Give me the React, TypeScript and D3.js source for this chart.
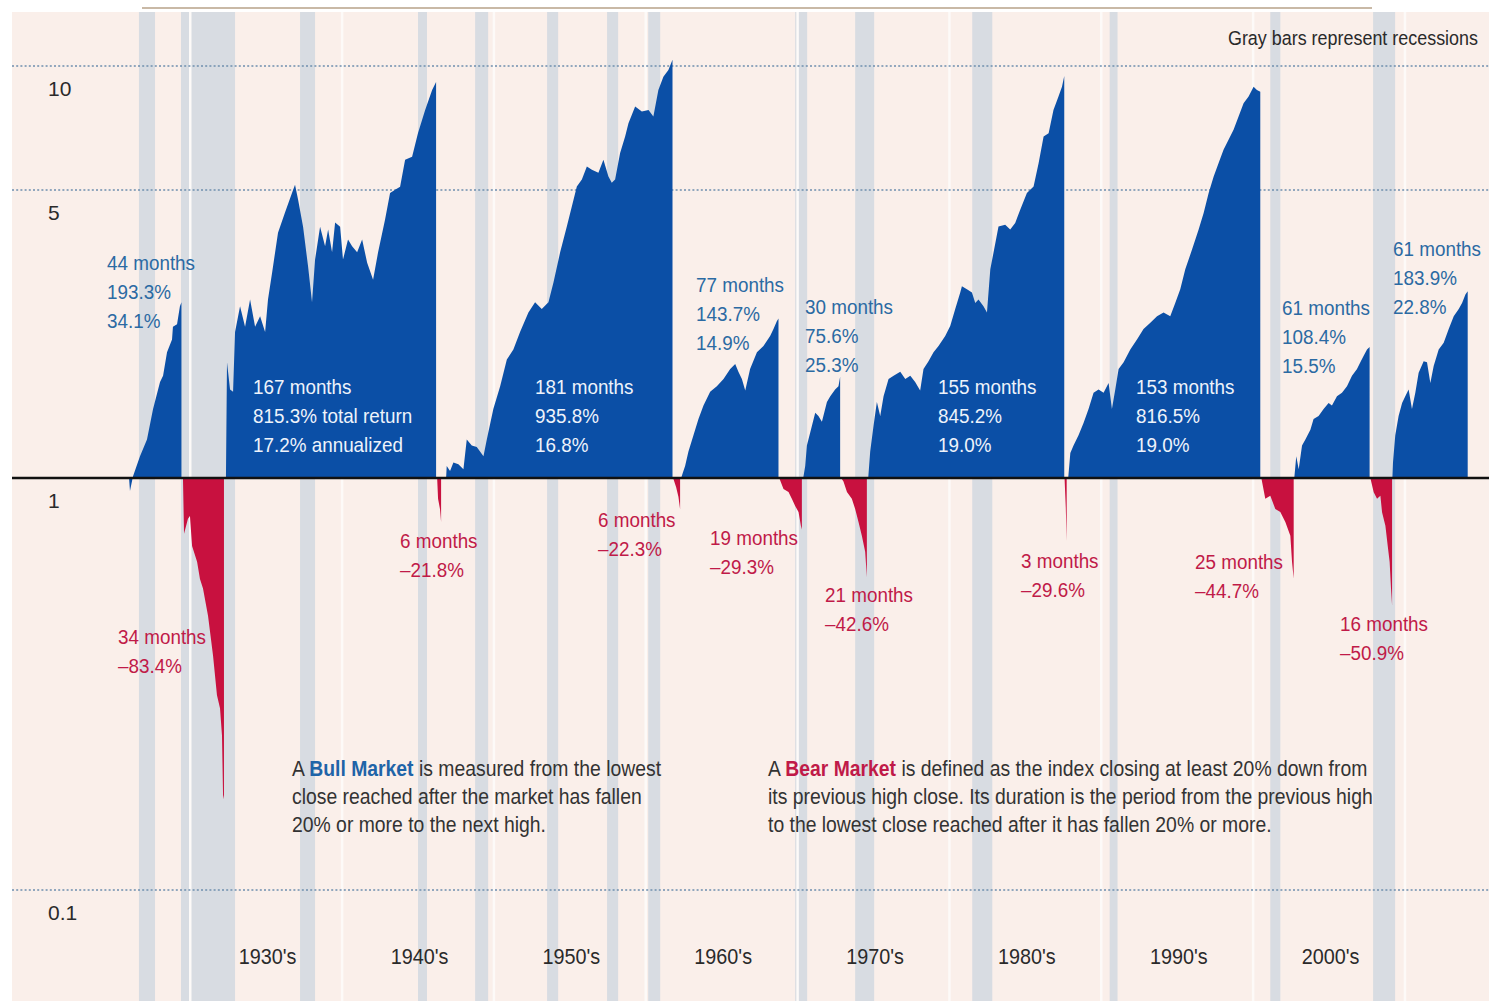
import * as d3 from 'd3';

// index value of each leg, rebased to 1 at its start: [year, multiple]
const BULL_1926: [number, number][] = [
  [1926.07, 1], [1926.13, 0.93], [1926.33, 1.01], [1926.79, 1.13], [1927.25, 1.24], [1927.65, 1.47],
  [1928.11, 1.71], [1928.31, 1.77], [1928.57, 2.02], [1928.9, 2.17], [1928.96, 2.33], [1929.23, 2.36],
  [1929.42, 2.61], [1929.52, 2.67],
];
const BEAR_1929: [number, number][] = [
  [1929.62, 1], [1929.69, 0.732], [1929.95, 0.796], [1930.08, 0.809], [1930.22, 0.684], [1930.55, 0.626],
  [1930.74, 0.569], [1930.94, 0.539], [1931.27, 0.463], [1931.6, 0.371], [1931.86, 0.297], [1932.06, 0.276],
  [1932.19, 0.237], [1932.26, 0.17], [1932.32, 0.166],
];
const BULL_1932: [number, number][] = [
  [1932.45, 1], [1932.52, 1.91], [1932.72, 1.64], [1932.92, 1.62], [1933.05, 2.26], [1933.38, 2.61],
  [1933.71, 2.33], [1934.04, 2.71], [1934.37, 2.33], [1934.7, 2.47], [1935.03, 2.26], [1935.22, 2.71],
  [1935.49, 3.15], [1935.88, 3.94], [1936.34, 4.41], [1936.8, 4.92], [1937.0, 5.15], [1937.2, 4.74],
  [1937.53, 4.07], [1937.86, 3.26], [1938.12, 2.67], [1938.32, 3.39], [1938.65, 4.07], [1938.98, 3.65],
  [1939.18, 4.01], [1939.44, 3.53], [1939.64, 4.17], [1939.97, 4.07], [1940.16, 3.39], [1940.49, 3.79],
  [1940.76, 3.65], [1941.09, 3.53], [1941.42, 3.79], [1941.75, 3.33], [1942.14, 3.03], [1942.47, 3.53],
  [1942.93, 4.24], [1943.26, 4.92], [1943.59, 5.01], [1943.92, 5.09], [1944.25, 5.92], [1944.71, 6.02],
  [1945.1, 6.88], [1945.57, 7.82], [1946.03, 8.74], [1946.29, 9.15],
];
const BEAR_1946: [number, number][] = [
  [1946.36, 1], [1946.42, 0.89], [1946.55, 0.84], [1946.62, 0.782],
];
const BULL_1946: [number, number][] = [
  [1946.95, 1], [1946.99, 1.07], [1947.21, 1.04], [1947.43, 1.09], [1947.76, 1.08], [1948.09, 1.05],
  [1948.31, 1.24], [1948.64, 1.2], [1948.97, 1.19], [1949.41, 1.13], [1949.63, 1.24], [1950.06, 1.47],
  [1950.51, 1.67], [1950.95, 1.94], [1951.38, 2.05], [1951.82, 2.26], [1952.37, 2.52], [1952.81, 2.67],
  [1953.25, 2.57], [1953.69, 2.67], [1954.02, 2.98], [1954.46, 3.53], [1954.9, 4.08], [1955.23, 4.56],
  [1955.56, 5.1], [1955.89, 5.3], [1956.22, 5.7], [1956.55, 5.6], [1956.98, 5.51], [1957.31, 5.92],
  [1957.64, 5.39], [1957.86, 5.21], [1958.08, 5.3], [1958.41, 6.15], [1958.74, 6.74], [1958.96, 7.26],
  [1959.4, 7.97], [1959.84, 7.75], [1960.28, 7.82], [1960.6, 7.54], [1960.93, 8.74], [1961.26, 9.42],
  [1961.59, 9.78], [1961.86, 10.36],
];
const BEAR_1961: [number, number][] = [
  [1961.9, 1], [1962.1, 0.95], [1962.25, 0.9], [1962.36, 0.84],
];
const BULL_1962: [number, number][] = [
  [1962.43, 1], [1962.54, 1.03], [1962.69, 1.07], [1962.91, 1.16], [1963.24, 1.27], [1963.57, 1.39],
  [1963.9, 1.5], [1964.34, 1.62], [1964.78, 1.67], [1965.22, 1.74], [1965.66, 1.84], [1965.99, 1.89],
  [1966.2, 1.81], [1966.43, 1.74], [1966.65, 1.63], [1966.97, 1.84], [1967.42, 2.02], [1967.85, 2.09],
  [1968.29, 2.21], [1968.51, 2.3], [1968.73, 2.4], [1968.84, 2.44],
];
const BEAR_1968: [number, number][] = [
  [1968.89, 1], [1969.17, 0.94], [1969.5, 0.925], [1969.72, 0.89], [1969.94, 0.855], [1970.16, 0.827],
  [1970.32, 0.765], [1970.38, 0.75],
];
const BULL_1970: [number, number][] = [
  [1970.47, 1], [1970.6, 1.07], [1970.71, 1.2], [1970.93, 1.29], [1971.26, 1.44], [1971.47, 1.415],
  [1971.7, 1.37], [1972.03, 1.53], [1972.25, 1.58], [1972.57, 1.64], [1972.79, 1.67], [1972.9, 1.76],
];
const BEAR_1973: [number, number][] = [
  [1972.97, 1], [1973.12, 0.98], [1973.35, 0.925], [1973.67, 0.89], [1973.89, 0.841], [1974.11, 0.782],
  [1974.33, 0.724], [1974.55, 0.662], [1974.66, 0.574],
];
const BULL_1974: [number, number][] = [
  [1974.75, 1], [1974.88, 1.16], [1975.1, 1.34], [1975.32, 1.53], [1975.54, 1.415], [1975.76, 1.58],
  [1976.09, 1.74], [1976.42, 1.77], [1976.86, 1.81], [1977.19, 1.74], [1977.52, 1.77], [1977.84, 1.71],
  [1978.17, 1.63], [1978.39, 1.84], [1978.72, 1.92], [1979.05, 2.02], [1979.38, 2.09], [1979.82, 2.21],
  [1980.15, 2.34], [1980.48, 2.57], [1980.81, 2.82], [1980.92, 2.92], [1981.25, 2.87], [1981.58, 2.82],
  [1981.8, 2.66], [1982.01, 2.71], [1982.34, 2.61], [1982.57, 2.52], [1982.79, 3.21], [1983.0, 3.52],
  [1983.33, 4.08], [1983.77, 4.12], [1984.1, 4.01], [1984.43, 4.16], [1984.76, 4.48], [1985.2, 4.92],
  [1985.64, 5.1], [1985.97, 5.81], [1986.3, 6.74], [1986.63, 6.87], [1986.95, 7.82], [1987.28, 8.43],
  [1987.51, 8.91], [1987.66, 9.45],
];
const BEAR_1987: [number, number][] = [
  [1987.68, 1], [1987.76, 0.85], [1987.82, 0.704],
];
const BULL_1987: [number, number][] = [
  [1987.92, 1], [1988.06, 1.15], [1988.27, 1.2], [1988.6, 1.27], [1988.93, 1.36], [1989.26, 1.47],
  [1989.59, 1.61], [1989.92, 1.64], [1990.25, 1.61], [1990.58, 1.7], [1990.8, 1.47], [1991.02, 1.64],
  [1991.24, 1.84], [1991.57, 1.91], [1992.01, 2.05], [1992.45, 2.17], [1992.88, 2.3], [1993.33, 2.38],
  [1993.77, 2.47], [1994.2, 2.52], [1994.64, 2.47], [1994.97, 2.66], [1995.3, 2.87], [1995.63, 3.21],
  [1996.07, 3.58], [1996.51, 4.01], [1996.84, 4.4], [1997.17, 4.92], [1997.5, 5.39], [1997.82, 5.81],
  [1998.15, 6.26], [1998.48, 6.62], [1998.81, 7.0], [1999.14, 7.54], [1999.47, 8.12], [1999.8, 8.43],
  [2000.13, 8.91], [2000.35, 8.74], [2000.57, 8.66],
];
const BEAR_2000: [number, number][] = [
  [2000.64, 1], [2000.9, 0.89], [2001.23, 0.906], [2001.56, 0.841], [2001.89, 0.827], [2002.22, 0.782],
  [2002.55, 0.724], [2002.66, 0.626], [2002.77, 0.57],
];
const BULL_2002: [number, number][] = [
  [2002.81, 1], [2002.94, 1.13], [2003.1, 1.05], [2003.32, 1.2], [2003.54, 1.24], [2003.87, 1.31],
  [2004.08, 1.39], [2004.41, 1.415], [2004.74, 1.47], [2005.07, 1.52], [2005.29, 1.5], [2005.62, 1.58],
  [2005.95, 1.61], [2006.28, 1.67], [2006.61, 1.77], [2006.94, 1.84], [2007.16, 1.91], [2007.38, 1.98],
  [2007.6, 2.05], [2007.77, 2.08],
];
const BEAR_2007: [number, number][] = [
  [2007.82, 1], [2008.04, 0.924], [2008.26, 0.89], [2008.48, 0.906], [2008.59, 0.826], [2008.81, 0.766],
  [2008.96, 0.686], [2009.09, 0.625], [2009.18, 0.539], [2009.25, 0.491],
];
const BULL_2009: [number, number][] = [
  [2009.27, 1], [2009.31, 1.09], [2009.46, 1.27], [2009.68, 1.415], [2009.91, 1.52], [2010.12, 1.58],
  [2010.34, 1.64], [2010.56, 1.47], [2010.78, 1.61], [2011.0, 1.8], [2011.33, 1.92], [2011.55, 1.91],
  [2011.77, 1.7], [2011.99, 1.87], [2012.32, 2.05], [2012.65, 2.13], [2012.98, 2.3], [2013.31, 2.47],
  [2013.64, 2.57], [2013.86, 2.66], [2014.08, 2.79], [2014.23, 2.84],
];

const BULLS = [BULL_1926, BULL_1932, BULL_1946, BULL_1962, BULL_1970, BULL_1974, BULL_1987, BULL_2002, BULL_2009];
const BEARS = [BEAR_1929, BEAR_1946, BEAR_1961, BEAR_1968, BEAR_1973, BEAR_1987, BEAR_2000, BEAR_2007];

const RECESSIONS: [number, number][] = [
  [1926.72, 1927.78], [1929.49, 1933.05], [1937.33, 1938.32], [1945.1, 1945.69], [1948.86, 1949.72],
  [1953.6, 1954.33], [1957.55, 1958.28], [1960.26, 1961.05], [1969.94, 1970.73], [1973.89, 1975.14],
  [1981.6, 1982.92], [1990.65, 1991.17], [2001.23, 2001.89], [2008.0, 2009.45],
];

const DECADES = [1930, 1940, 1950, 1960, 1970, 1980, 1990, 2000, 2010];
const DECADE_LABELS = ["1930's", "1940's", "1950's", "1960's", "1970's", "1980's", "1990's", "2000's"];

const Y_TICKS = [10, 5, 1, 0.1];
const Y_TICK_LABELS = ['10', '5', '1', '0.1'];

const BULL_NOTES = [
  ['44 months', '193.3%', '34.1%'],
  ['167 months', '815.3% total return', '17.2% annualized'],
  ['181 months', '935.8%', '16.8%'],
  ['77 months', '143.7%', '14.9%'],
  ['30 months', '75.6%', '25.3%'],
  ['155 months', '845.2%', '19.0%'],
  ['153 months', '816.5%', '19.0%'],
  ['61 months', '108.4%', '15.5%'],
  ['61 months', '183.9%', '22.8%'],
];
const BEAR_NOTES = [
  ['34 months', '–83.4%'],
  ['6 months', '–21.8%'],
  ['6 months', '–22.3%'],
  ['19 months', '–29.3%'],
  ['21 months', '–42.6%'],
  ['3 months', '–29.6%'],
  ['25 months', '–44.7%'],
  ['16 months', '–50.9%'],
];

// label placement (pixels), kept apart from the values
const BULL_NOTE_POS = [[107, 263], [253, 387], [535, 387], [696, 285], [805, 307], [938, 387], [1136, 387], [1282, 308], [1393, 249]];
const BULL_NOTE_INSIDE = [false, true, true, false, false, true, true, false, false];
const BEAR_NOTE_POS = [[118, 637], [400, 541], [598, 520], [710, 538], [825, 595], [1021, 561], [1195, 562], [1340, 624]];

const W = 1489;
const H = 1001;
const FONT = "'Liberation Sans', Arial, Helvetica, sans-serif";

const C = {
  bg: '#faefea',
  gray: '#d8dce2',
  blue: '#0b4fa6',
  red: '#c8113f',
  blueText: '#2b6aa3',
  redText: '#c01a48',
  inText: '#eef3fb',
  dots: '#6f8fae',
  ink: '#2a2a2a',
};

// narrow sans: regular face squeezed horizontally
function T({
  x, y, size, sx = 1, anchor = 'start', fill = C.ink, children,
}: {
  x: number; y: number; size: number; sx?: number; anchor?: string; fill?: string; children: React.ReactNode;
}) {
  return (
    <text
      transform={`translate(${x},${y}) scale(${sx},1)`}
      dy="0.35em"
      fontSize={size}
      textAnchor={anchor}
      fill={fill}
    >
      {children}
    </text>
  );
}

export default function App() {
  const x = d3.scaleLinear().domain([1926, 2014.25]).range([128, 1468]);
  const y = d3.scaleLog().domain([0.1, 10]).range([890, 66]);
  const base = y(1);

  const area = d3
    .area<[number, number]>()
    .x((d) => x(d[0]))
    .y0(base)
    .y1((d) => y(d[1]));

  const noteLine = 29;
  const noteSize = 20.5;
  const noteSx = 0.92;
  const bodySize = 22;
  const bodySx = 0.88;

  return (
    <svg
      width={W}
      height={H}
      viewBox={`0 0 ${W} ${H}`}
      style={{ position: 'absolute', left: 0, top: 0, display: 'block', background: '#fff' }}
      fontFamily={FONT}
    >
      <rect x={12} y={12} width={W - 12} height={H - 12} fill={C.bg} />
      <line x1={142} x2={1372} y1={8} y2={8} stroke="#c9b9a6" strokeWidth={2} />

      {RECESSIONS.map(([a, b], i) => (
        <rect key={i} x={x(a)} y={12} width={x(b) - x(a)} height={H - 12} fill={C.gray} />
      ))}
      {DECADES.map((d) => (
        <line key={d} x1={x(d) + 1.5} x2={x(d) + 1.5} y1={12} y2={H} stroke="#fdfaf8" strokeWidth={2.5} />
      ))}

      {Y_TICKS.filter((t) => t !== 1).map((t) => (
        <line key={t} x1={12} x2={W} y1={y(t)} y2={y(t)} stroke={C.dots} strokeWidth={1.6} strokeDasharray="2 2.2" />
      ))}

      {BULLS.map((pts, i) => (
        <path key={`bull${i}`} d={area(pts) ?? ''} fill={C.blue} />
      ))}
      {BEARS.map((pts, i) => (
        <path key={`bear${i}`} d={area(pts) ?? ''} fill={C.red} />
      ))}

      <line x1={12} x2={W} y1={base} y2={base} stroke="#111" strokeWidth={2.5} />

      {Y_TICKS.map((t, i) => (
        <T key={t} x={48} y={y(t) + 23} size={21}>
          {Y_TICK_LABELS[i]}
        </T>
      ))}

      {DECADE_LABELS.map((lab, i) => (
        <T key={lab} x={x(DECADES[i] + 5) + 3} y={956} size={22} sx={0.9} anchor="middle">
          {lab}
        </T>
      ))}

      <T x={1478} y={38} size={19.5} sx={0.92} anchor="end">
        Gray bars represent recessions
      </T>

      {BULL_NOTES.map((lines, i) =>
        lines.map((s, j) => (
          <T
            key={`bn${i}-${j}`}
            x={BULL_NOTE_POS[i][0]}
            y={BULL_NOTE_POS[i][1] + j * noteLine}
            size={noteSize}
            sx={noteSx}
            fill={BULL_NOTE_INSIDE[i] ? C.inText : C.blueText}
          >
            {s}
          </T>
        )),
      )}
      {BEAR_NOTES.map((lines, i) =>
        lines.map((s, j) => (
          <T
            key={`rn${i}-${j}`}
            x={BEAR_NOTE_POS[i][0]}
            y={BEAR_NOTE_POS[i][1] + j * noteLine}
            size={noteSize}
            sx={noteSx}
            fill={C.redText}
          >
            {s}
          </T>
        )),
      )}

      <g fill="#333">
        <T x={292} y={768} size={bodySize} sx={bodySx} fill="#333">
          A <tspan fill="#1f64a8" fontWeight="bold">Bull Market</tspan> is measured from the lowest
        </T>
        <T x={292} y={796} size={bodySize} sx={bodySx} fill="#333">close reached after the market has fallen</T>
        <T x={292} y={824} size={bodySize} sx={bodySx} fill="#333">20% or more to the next high.</T>

        <T x={768} y={768} size={bodySize} sx={bodySx} fill="#333">
          A <tspan fill={C.redText} fontWeight="bold">Bear Market</tspan> is defined as the index closing at least 20% down from
        </T>
        <T x={768} y={796} size={bodySize} sx={bodySx} fill="#333">its previous high close. Its duration is the period from the previous high</T>
        <T x={768} y={824} size={bodySize} sx={bodySx} fill="#333">to the lowest close reached after it has fallen 20% or more.</T>
      </g>
    </svg>
  );
}
